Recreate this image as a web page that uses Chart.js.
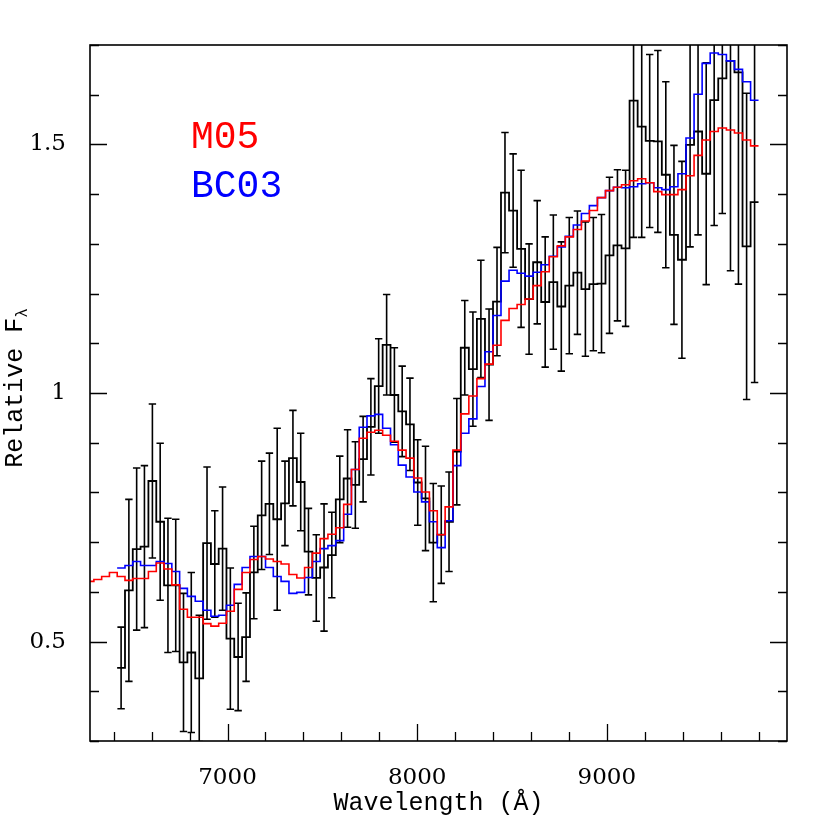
<!DOCTYPE html>
<html><head><meta charset="utf-8">
<script src="https://cdn.jsdelivr.net/npm/chart.js@4"></script>
<style>html,body{margin:0;padding:0;background:#fff}</style>
</head><body>
<canvas id="c" width="830" height="830"></canvas>
<script>
// ---- data ----
const wavelength = [6439,6480,6521,6562,6604,6645,6686,6727,6768,6809,6851,6892,6933,6974,7015,7056,7098,7139,7180,7221,7262,7303,7345,7386,7427,7468,7509,7550,7592,7633,7674,7715,7756,7797,7839,7880,7921,7962,8003,8044,8085,8127,8168,8209,8251,8294,8336,8379,8421,8463,8506,8548,8590,8633,8675,8718,8760,8802,8845,8887,8929,8972,9014,9056,9099,9141,9184,9226,9269,9311,9354,9396,9439,9481,9524,9566,9609,9652,9694,9737,9779];
const m05ExtraWavelength = [6275,6316,6357,6398];
const observedFlux = [0.447,0.603,0.686,0.691,0.823,0.741,0.613,0.613,0.458,0.478,
 0.426,0.698,0.656,0.687,0.506,0.469,0.509,0.639,0.754,0.777,
 0.746,0.778,0.869,0.821,0.681,0.628,0.649,0.674,0.786,0.828,
 0.815,0.867,0.932,1.014,1.097,0.996,0.963,0.937,0.820,0.788,
 0.699,0.715,0.741,0.882,1.091,1.048,1.149,1.057,1.184,1.403,
 1.367,1.290,1.189,1.263,1.183,1.223,1.174,1.216,1.242,1.209,
 1.219,1.220,1.277,1.297,1.291,1.588,1.536,1.507,1.506,1.439,
 1.318,1.268,1.499,1.526,1.441,1.589,1.633,1.668,1.645,1.295,1.384];
const observedError = [0.082,0.183,0.163,0.163,0.155,0.158,0.135,0.133,0.139,0.161,
 0.127,0.153,0.107,0.124,0.142,0.108,0.089,0.093,0.109,0.102,
 0.183,0.085,0.096,0.098,0.087,0.087,0.128,0.086,0.087,0.098,
 0.087,0.086,0.097,0.095,0.101,0.095,0.091,0.093,0.086,0.105,
 0.119,0.098,0.100,0.107,0.095,0.115,0.118,0.112,0.109,0.121,
 0.114,0.158,0.111,0.124,0.131,0.135,0.130,0.137,0.124,0.135,
 0.134,0.139,0.157,0.152,0.157,0.275,0.223,0.174,0.183,0.187,
 0.180,0.198,0.205,0.208,0.223,0.252,0.272,0.422,0.426,0.308,0.363];
const bc03Flux = [0.648,0.653,0.661,0.653,0.653,0.661,0.657,0.641,0.607,0.591,
 0.581,0.563,0.551,0.553,0.573,0.615,0.649,0.671,0.671,0.649,
 0.631,0.621,0.597,0.599,0.629,0.661,0.687,0.693,0.703,0.756,
 0.846,0.931,0.954,0.957,0.929,0.896,0.855,0.831,0.801,0.781,
 0.741,0.689,0.743,0.854,0.919,0.948,1.013,1.083,1.156,1.225,
 1.247,1.241,1.235,1.243,1.258,1.275,1.294,1.315,1.338,1.361,
 1.377,1.393,1.407,1.414,1.413,1.415,1.421,1.423,1.413,1.409,
 1.415,1.441,1.513,1.601,1.663,1.684,1.681,1.668,1.651,1.626,1.589];
const m05Flux = [0.621,0.625,0.631,0.639,
 0.631,0.623,0.627,0.627,0.641,0.658,0.646,0.614,0.565,0.549,
 0.549,0.536,0.531,0.537,0.561,0.605,0.639,0.665,0.671,0.666,
 0.661,0.656,0.635,0.628,0.649,0.678,0.707,0.716,0.729,0.776,
 0.846,0.909,0.921,0.925,0.915,0.903,0.885,0.869,0.829,0.801,
 0.763,0.715,0.771,0.885,0.958,0.994,1.029,1.058,1.096,1.146,
 1.170,1.178,1.189,1.216,1.244,1.274,1.296,1.314,1.329,1.346,
 1.367,1.393,1.407,1.414,1.419,1.427,1.431,1.423,1.405,1.399,
 1.399,1.409,1.437,1.478,1.509,1.526,1.533,1.529,1.523,1.509,1.497];
const xTickValues = [6400,6600,6800,7000,7200,7400,7600,7800,8000,8200,8400,8600,8800,9000,9200,9400,9600,9800];
const xMajorTicks = [7000,8000,9000];
const yTickValues = [0.3,0.4,0.5,0.6,0.7,0.8,0.9,1.0,1.1,1.2,1.3,1.4,1.5,1.6,1.7];
const yMajorTicks = [0.5,1.0,1.5];
const seriesNames = ['M05','BC03'];
const seriesColors = ['#ff0000','#0000ff'];
const halfBin = 20.9;

// ---- build step series ----
function stepPoints(xs, ys, closeLeft){
  const pts = xs.map((x,i)=>({x:x,y:ys[i]}));
  if (closeLeft) pts.unshift({x:xs[0]-halfBin,y:ys[0]});
  pts.push({x:xs[xs.length-1]+halfBin,y:ys[ys.length-1]});
  return pts;
}
const m05Wavelength = m05ExtraWavelength.concat(wavelength);

const errorBarPlugin = {
  id:'errorBars',
  beforeDatasetsDraw(chart){
    const {ctx, chartArea:a, scales:{x,y}} = chart;
    ctx.save();
    ctx.beginPath(); ctx.rect(a.left,a.top,a.right-a.left,a.bottom-a.top); ctx.clip();
    ctx.strokeStyle='#000'; ctx.lineWidth=1.6; ctx.lineCap='butt';
    wavelength.forEach((w,i)=>{
      const px = x.getPixelForValue(w);
      const top = y.getPixelForValue(observedFlux[i]+observedError[i]);
      const bot = y.getPixelForValue(observedFlux[i]-observedError[i]);
      ctx.beginPath();
      ctx.moveTo(px,top); ctx.lineTo(px,bot);
      ctx.moveTo(px-3.7,top); ctx.lineTo(px+3.7,top);
      ctx.moveTo(px-3.7,bot); ctx.lineTo(px+3.7,bot);
      ctx.stroke();
    });
    ctx.restore();
  }
};

const framePlugin = {
  id:'frame',
  afterDraw(chart){
    const {ctx, chartArea:a, scales:{x,y}} = chart;
    ctx.save();
    ctx.strokeStyle='#000';
    ctx.lineWidth=1.3;
    ctx.beginPath();
    xTickValues.forEach(v=>{
      const px = Math.round(x.getPixelForValue(v))+0.5;
      const len = xMajorTicks.includes(v)?17:9;
      ctx.moveTo(px,a.bottom); ctx.lineTo(px,a.bottom-len);
    });
    yTickValues.forEach(v=>{
      const py = Math.round(y.getPixelForValue(v))+0.5;
      const len = yMajorTicks.includes(v)?17:9;
      ctx.moveTo(a.left,py); ctx.lineTo(a.left+len,py);
      ctx.moveTo(a.right,py); ctx.lineTo(a.right-len,py);
    });
    ctx.stroke();
    ctx.lineWidth=1.6;
    ctx.strokeRect(a.left,a.top,a.right-a.left,a.bottom-a.top);
    // y-axis title with subscript
    ctx.fillStyle='#000';
    ctx.translate(22,(a.top+a.bottom)/2 - 5);
    ctx.rotate(-Math.PI/2);
    ctx.font='25px "Liberation Mono"';
    const t1='Relative F';
    const w1=ctx.measureText(t1).width;
    ctx.font='16px "Liberation Mono"';
    const w2=ctx.measureText('λ').width;
    const start=-(w1+w2)/2;
    ctx.textBaseline='alphabetic';
    ctx.font='25px "Liberation Mono"';
    ctx.fillText(t1,start,0);
    ctx.font='16px "Liberation Mono"';
    ctx.fillText('λ',start+w1,5);
    ctx.restore();
    // legend text
    ctx.save();
    ctx.font='38px "Liberation Mono"';
    ctx.textBaseline='alphabetic';
    seriesNames.forEach((n,i)=>{
      ctx.fillStyle=seriesColors[i];
      ctx.fillText(n,191,148+i*49);
    });
    ctx.restore();
  }
};

new Chart(document.getElementById('c'),{
  type:'line',
  data:{datasets:[
    {label:seriesNames[0],data:stepPoints(m05Wavelength,m05Flux,false),borderColor:seriesColors[0],borderWidth:1.6,stepped:'middle',pointRadius:0,fill:false,order:0},
    {label:seriesNames[1],data:stepPoints(wavelength,bc03Flux,true),borderColor:seriesColors[1],borderWidth:1.6,stepped:'middle',pointRadius:0,fill:false,order:1},
    {label:'Observed',data:stepPoints(wavelength,observedFlux,true),borderColor:'#000',borderWidth:1.8,stepped:'middle',pointRadius:0,fill:false,order:2}
  ]},
  options:{
    responsive:false,animation:false,devicePixelRatio:1,
    layout:{padding:{top:45,right:43,left:0,bottom:0}},
    plugins:{legend:{display:false},tooltip:{enabled:false}},
    scales:{
      x:{type:'linear',min:6275,max:9950,
        afterBuildTicks:s=>{s.ticks=xTickValues.map(v=>({value:v}));},
        afterFit:s=>{s.height=89;},
        grid:{display:false},border:{display:false},
        ticks:{autoSkip:false,maxRotation:0,padding:15,color:'#000',
          font:{family:'DejaVu Serif',size:23},
          callback:v=>xMajorTicks.includes(v)?String(v):''},
        title:{display:true,text:'Wavelength (Å)',color:'#000',
          font:{family:'Liberation Mono',size:25},padding:{top:0,bottom:12}}
      },
      y:{type:'linear',min:0.3,max:1.7,
        afterBuildTicks:s=>{s.ticks=yTickValues.map(v=>({value:v}));},
        afterFit:s=>{s.width=90;},
        grid:{display:false},border:{display:false},
        ticks:{autoSkip:false,padding:16,color:'#000',
          font:{family:'DejaVu Serif',size:23},
          callback:v=>yMajorTicks.includes(v)?String(v):''}
      }
    }
  },
  plugins:[errorBarPlugin,framePlugin]
});
</script>
</body></html>
